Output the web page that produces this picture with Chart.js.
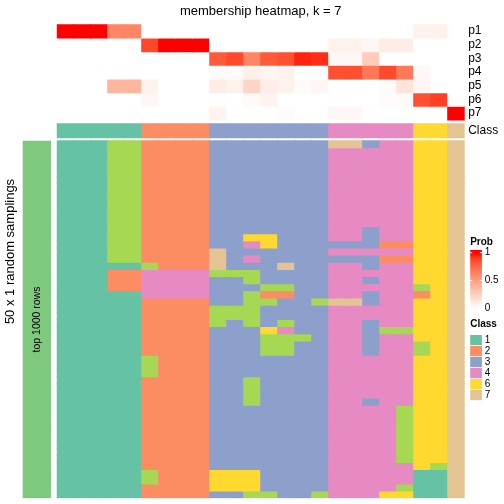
<!DOCTYPE html>
<html>
<head>
<meta charset="utf-8">
<script src="https://cdn.jsdelivr.net/npm/chart.js@4.4.1/dist/chart.umd.min.js"></script>
<style>
    html, body { margin: 0; padding: 0; background: #ffffff; }
    #output { width: 504px; height: 504px; }
</style>
</head>
<body>
<div id="output"><canvas id="heat" width="504" height="504"></canvas></div>
<script>
// samples (columns), already in heatmap order
var samples = ['S01', 'S02', 'S03', 'S04', 'S05', 'S06', 'S07', 'S08', 'S09', 'S10', 'S11', 'S12',
    'S13', 'S14', 'S15', 'S16', 'S17', 'S18', 'S19', 'S20', 'S21', 'S22', 'S23', 'S24'];

// consensus class per sample
var classes = [1, 1, 1, 1, 1, 2, 2, 2, 2, 3, 3, 3, 3, 3, 3, 3, 4, 4, 4, 4, 4, 6, 6, 7];

// membership probabilities per class
var probNames = ['p1', 'p2', 'p3', 'p4', 'p5', 'p6', 'p7'];
var p1 = [1, 1, 1, 0.62, 0.62, 0, 0, 0, 0, 0, 0, 0, 0, 0, 0, 0, 0, 0, 0, 0, 0, 0.07, 0.07, 0];
var p2 = [0, 0, 0, 0, 0, 0.87, 1, 1, 1, 0, 0, 0, 0, 0, 0, 0, 0.07, 0.07, 0.04, 0.1, 0.1, 0, 0, 0];
var p3 = [0, 0, 0, 0, 0, 0, 0, 0, 0, 0.8, 0.86, 0.62, 0.8, 0.84, 0.96, 0.94, 0.04, 0.04, 0.27, 0, 0, 0, 0, 0];
var p4 = [0, 0, 0, 0, 0, 0, 0, 0, 0, 0.02, 0.02, 0.08, 0.05, 0.07, 0, 0, 0.84, 0.84, 0.68, 0.86, 0.68, 0.04, 0, 0];
var p5 = [0, 0, 0, 0.38, 0.38, 0.07, 0, 0, 0, 0.1, 0.07, 0.22, 0.09, 0.07, 0.02, 0.04, 0, 0, 0, 0.02, 0.14, 0.05, 0, 0];
var p6 = [0, 0, 0, 0, 0, 0.04, 0, 0, 0, 0, 0, 0.03, 0.06, 0, 0, 0, 0, 0, 0, 0.02, 0.03, 0.84, 0.9, 0];
var p7 = [0, 0, 0, 0, 0, 0, 0, 0, 0, 0.06, 0, 0, 0, 0.02, 0, 0, 0.04, 0.04, 0, 0, 0, 0, 0, 1];
var probs = [p1, p2, p3, p4, p5, p6, p7];

// class of each sample in each of the 50 random samplings (one string per sampling)
var samplings = [
    '111552222333333377344667',
    '111552222333333344444667',
    '111552222333333344444667',
    '111552222333333344444667',
    '111552222333333344444667',
    '111552222333333344444667',
    '111552222333333344444667',
    '111552222333333344444667',
    '111552222333333344444667',
    '111552222333333344444667',
    '111552222333333344444667',
    '111552222333333344444667',
    '111552222333333344344667',
    '111552222336633344344667',
    '111552222334633333322667',
    '111552222733333344444667',
    '111552222734333333322667',
    '111115222733373344344667',
    '111224444555333344444667',
    '111224444335333344344667',
    '111224444333553344444567',
    '111114444335223344344267',
    '111112222335533577344667',
    '111112222555333344444667',
    '111112222555333344444667',
    '111112222535353344344667',
    '111112222333643344355667',
    '111112222333555344344667',
    '111112222333553344344567',
    '111112222333553344344567',
    '111115222333333344444667',
    '111115222333333344444667',
    '111115222333333344444667',
    '111112222335333344444667',
    '111112222335333344444667',
    '111112222335333344444667',
    '111112222335333344344667',
    '111112222333333344445667',
    '111112222333333344445667',
    '111112222333333344445667',
    '111112222333333344445667',
    '111112222333333344445667',
    '111112222333333344445667',
    '111112222333333344445667',
    '111112222333333344445667',
    '111112222333333344444657',
    '111115222666333344444117',
    '111115222666333344444117',
    '111112222666333344445117',
    '111112222335533544466117'
];

var legendClasses = ['1', '2', '3', '4', '6', '7'];

var classColors = {
    '1': '#66C2A5', '2': '#FC8D62', '3': '#8DA0CB', '4': '#E78AC3',
    '5': '#A6D854', '6': '#FFD92F', '7': '#E5C494'
};

// white -> red, interpolated in Lab space
function probColor(v) {
    var L = 100 + (53.24 - 100) * v, A = 80.09 * v, B = 67.20 * v;
    var fy = (L + 16) / 116, fx = fy + A / 500, fz = fy - B / 200;
    function finv(t) { return t > 6 / 29 ? t * t * t : 3 * (6 / 29) * (6 / 29) * (t - 4 / 29); }
    var X = 0.95047 * finv(fx), Y = finv(fy), Z = 1.08883 * finv(fz);
    var r = 3.2406 * X - 1.5372 * Y - 0.4986 * Z;
    var g = -0.9689 * X + 1.8758 * Y + 0.0415 * Z;
    var b = 0.0557 * X - 0.2040 * Y + 1.0570 * Z;
    function gam(c) {
        c = Math.max(0, Math.min(1, c));
        return Math.round(255 * (c <= 0.0031308 ? 12.92 * c : 1.055 * Math.pow(c, 1 / 2.4) - 0.055));
    }
    return 'rgb(' + gam(r) + ',' + gam(g) + ',' + gam(b) + ')';
}

// y layout in "sampling row" units
var annoTop = -16.28;
var annoH = 1.912;
var classRow = [-2.38, -0.42];
var nRows = samplings.length;

var font = '"Liberation Sans", Arial, sans-serif';

function span(a, b) {
    return samples.map(function () { return [a, b]; });
}

var datasets = [];
probs.forEach(function (row, k) {
    datasets.push({
        label: probNames[k],
        data: span(annoTop + k * annoH, annoTop + (k + 1) * annoH),
        backgroundColor: row.map(probColor)
    });
});
datasets.push({
    label: 'Class',
    data: span(classRow[0], classRow[1]),
    backgroundColor: classes.map(function (c) { return classColors[c]; })
});
samplings.forEach(function (s, r) {
    datasets.push({
        label: 'sampling ' + (r + 1),
        data: span(r, r + 1),
        backgroundColor: s.split('').map(function (c) { return classColors[c]; })
    });
});

var decor = {
    id: 'decor',
    afterDraw: function (chart) {
        var ctx = chart.ctx, area = chart.chartArea, y = chart.scales.y;
        ctx.save();
        ctx.fillStyle = '#000';

        // title
        ctx.font = '13px ' + font;
        ctx.textAlign = 'center';
        ctx.textBaseline = 'middle';
        ctx.fillText('membership heatmap, k = 7', (area.left + area.right) / 2, 11);

        // row names of the top annotation
        ctx.font = '12px ' + font;
        ctx.textAlign = 'left';
        probNames.forEach(function (n, k) {
            ctx.fillText(n, area.right + 3.5, y.getPixelForValue(annoTop + (k + 0.5) * annoH));
        });
        ctx.fillText('Class', area.right + 3.5, y.getPixelForValue((classRow[0] + classRow[1]) / 2));

        // left block for the row split
        var top = y.getPixelForValue(0), bot = y.getPixelForValue(nRows);
        ctx.fillStyle = '#7FC97F';
        ctx.fillRect(area.left - 34, top, 28.3, bot - top);
        ctx.fillStyle = '#000';
        ctx.save();
        ctx.translate(area.left - 19.5, (top + bot) / 2);
        ctx.rotate(-Math.PI / 2);
        ctx.font = '10.5px ' + font;
        ctx.textAlign = 'center';
        ctx.fillText('top 1000 rows', 0, 0);
        ctx.restore();

        ctx.save();
        ctx.translate(10, 251.5);
        ctx.rotate(-Math.PI / 2);
        ctx.font = '13px ' + font;
        ctx.textAlign = 'center';
        ctx.fillText('50 x 1 random samplings', 0, 0);
        ctx.restore();

        // Prob legend
        var lx = area.right + 5.5;
        ctx.font = 'bold 10px ' + font;
        ctx.textAlign = 'left';
        ctx.fillText('Prob', lx, 242);
        var g0 = 252.7, g1 = 308.3;
        var grad = ctx.createLinearGradient(0, g0, 0, g1);
        for (var i = 0; i <= 10; i++) {
            grad.addColorStop(i / 10, probColor(1 - i / 10));
        }
        ctx.fillStyle = grad;
        ctx.fillRect(lx, 250, 11.7, 60);
        ctx.strokeStyle = '#ffffff';
        ctx.lineWidth = 1;
        [1, 0.5, 0].forEach(function (v) {
            var py = g1 - (g1 - g0) * v;
            ctx.beginPath();
            ctx.moveTo(lx, py); ctx.lineTo(lx + 2, py);
            ctx.moveTo(lx + 9.7, py); ctx.lineTo(lx + 11.7, py);
            ctx.stroke();
            ctx.fillStyle = '#000';
            ctx.font = '10px ' + font;
            ctx.fillText(String(v), lx + 14.5, py);
        });

        // Class legend
        ctx.font = 'bold 10px ' + font;
        ctx.fillText('Class', lx, 324.5);
        ctx.font = '10px ' + font;
        legendClasses.forEach(function (c, k) {
            var by = 335 + k * 11;
            ctx.fillStyle = classColors[c];
            ctx.fillRect(lx, by, 11.7, 10.2);
            ctx.fillStyle = '#000';
            ctx.fillText(c, lx + 14.5, by + 5.5);
        });
        ctx.restore();
    }
};

new Chart(document.getElementById('heat'), {
    type: 'bar',
    data: { labels: samples, datasets: datasets },
    options: {
        responsive: false,
        animation: false,
        devicePixelRatio: 1,
        events: [],
        layout: { padding: { left: 56.7, right: 39.3, top: 24.3, bottom: 5.8 } },
        datasets: {
            bar: {
                grouped: false,
                barPercentage: 1,
                categoryPercentage: 1,
                borderWidth: 0,
                inflateAmount: 0.5
            }
        },
        scales: {
            x: { type: 'category', display: false },
            y: { type: 'linear', display: false, reverse: true, min: annoTop, max: nRows }
        },
        plugins: {
            legend: { display: false },
            tooltip: { enabled: false },
            title: { display: false }
        }
    },
    plugins: [decor]
});
</script>
</body>
</html>
